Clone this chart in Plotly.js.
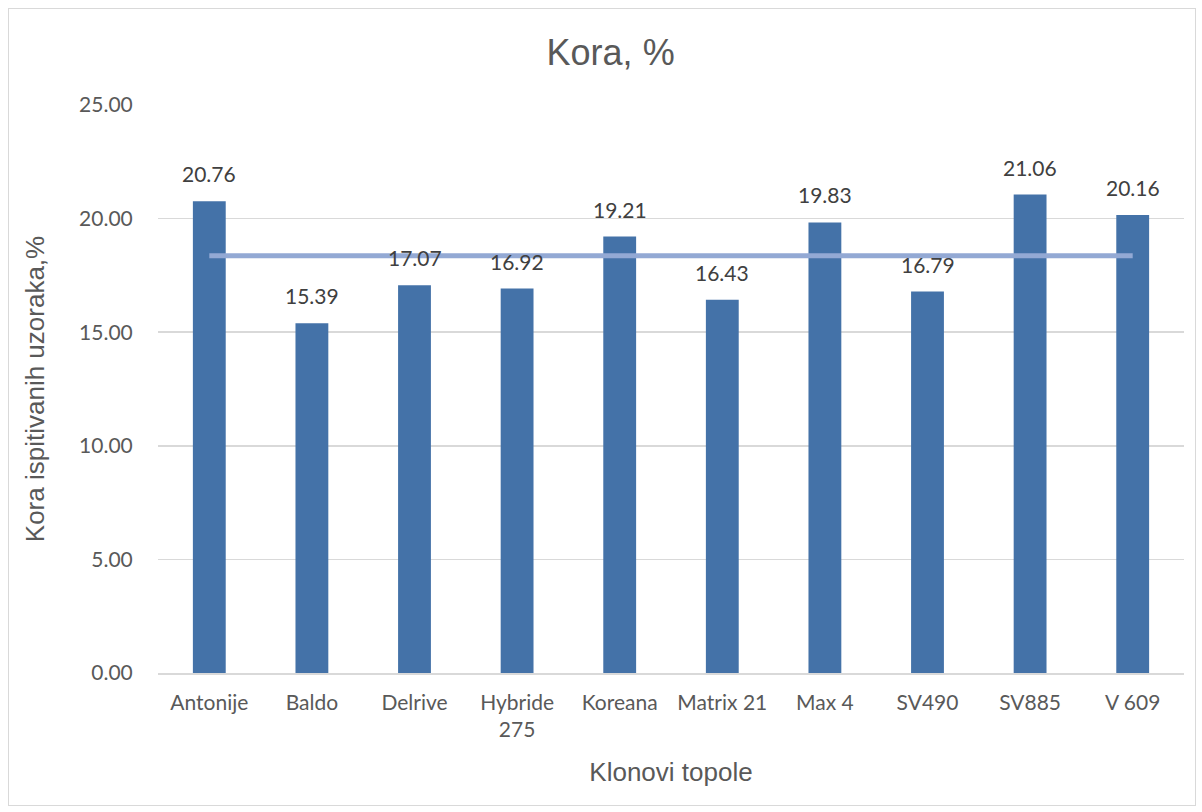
<!DOCTYPE html>
<html>
<head>
<meta charset="utf-8">
<script src="https://cdn.plot.ly/plotly-3.0.1.min.js"></script>
<style>
body{margin:0;padding:0;background:#fff;}
#frame{position:absolute;left:8px;top:8px;width:1186px;height:796px;border:1px solid #d9d9d9;pointer-events:none;}
#chart{position:absolute;left:0;top:0;width:1202px;height:812px;}
</style>
</head>
<body>
<div id="chart"></div>
<div id="frame"></div>
<script>
var categories = ["Antonije","Baldo","Delrive","Hybride 275","Koreana","Matrix 21","Max 4","SV490","SV885","V 609"];
var tickLabels = ["Antonije","Baldo","Delrive","Hybride<br>275","Koreana","Matrix 21","Max 4","SV490","SV885","V 609"];
var koraValues = [20.76,15.39,17.07,16.92,19.21,16.43,19.83,16.79,21.06,20.16];
var meanValue = 18.36;
var meanValues = categories.map(function(){return meanValue;});
var yTicks = [0,5,10,15,20,25];
var yTickText = ["0.00","5.00","10.00","15.00","20.00","25.00"];

var labelFont = {family:'Lato, Open Sans, sans-serif', size:21, color:'#404040'};
var bars = {
  type:'bar', x:categories, y:koraValues,
  marker:{color:'#4472a8'},
  hoverinfo:'x+y'
};
var line = {
  type:'scatter', mode:'lines', x:categories, y:meanValues,
  line:{color:'#93a9d4', width:5},
  hoverinfo:'y'
};
var annotations = categories.map(function(c,i){
  return {x:c, y:koraValues[i], xref:'x', yref:'y', text:koraValues[i].toFixed(2),
          showarrow:false, yanchor:'bottom', yshift:13, font:labelFont};
});
var layout = {
  width:1202, height:812,
  margin:{l:158, r:18, t:105, b:139},
  paper_bgcolor:'rgba(0,0,0,0)', plot_bgcolor:'#fff',
  showlegend:false, bargap:0.68,
  annotations:annotations,
  title:{text:'Kora, %', x:0.508, xanchor:'center', y:0.935, yanchor:'middle',
         font:{family:'Liberation Sans, Arial, sans-serif', size:36, color:'#595959'}},
  xaxis:{type:'category', tickvals:categories, ticktext:tickLabels,
         tickfont:{family:'Lato, Open Sans, sans-serif', size:21, color:'#595959'},
         ticks:'outside', ticklen:10, tickcolor:'rgba(0,0,0,0)',
         showline:true, linecolor:'#d9d9d9', linewidth:1.5, showgrid:false,
         title:{text:'Klonovi topole', standoff:23,
                font:{family:'Liberation Sans, Arial, sans-serif', size:26, color:'#595959'}}},
  yaxis:{range:[0,25], tickvals:yTicks, ticktext:yTickText,
         tickfont:{family:'Lato, Open Sans, sans-serif', size:21, color:'#595959'},
         ticks:'outside', ticklen:20, tickcolor:'rgba(0,0,0,0)',
         gridcolor:'#d9d9d9', gridwidth:1.5, zeroline:false, showline:false,
         title:{text:'Kora ispitivanih uzoraka,%', standoff:27,
                font:{family:'Liberation Sans, Arial, sans-serif', size:26, color:'#595959'}}}
};
Plotly.newPlot('chart',[bars,line],layout,{displayModeBar:false, staticPlot:true});
</script>
</body>
</html>
